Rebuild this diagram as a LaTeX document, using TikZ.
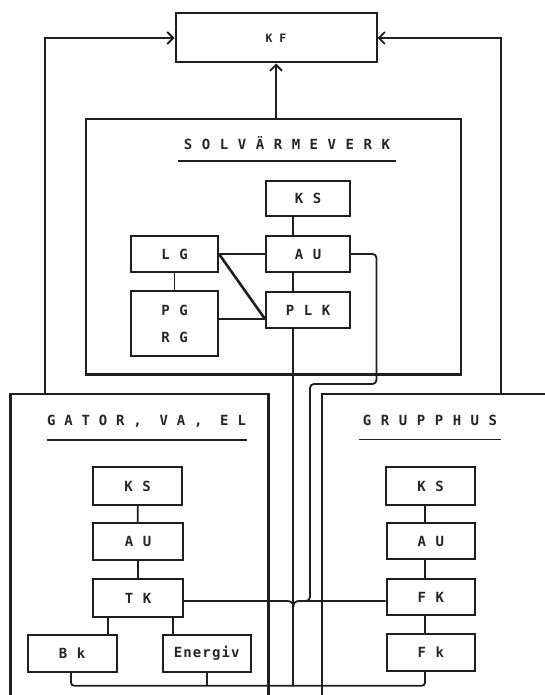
\documentclass[tikz,border=0pt]{standalone}
\usepackage{fontspec}
\usetikzlibrary{arrows.meta,calc}
\newfontfamily\twmain[LetterSpace=8]{DejaVu Sans Mono Bold}
\newfontfamily\twnarrow[LetterSpace=3]{DejaVu Sans Mono Bold}
\newfontfamily\twplain{DejaVu Sans Mono Bold}
\newcommand\dgLbl{\twmain\fontsize{14}{16}\selectfont}
\newcommand\dgLblN{\twnarrow\fontsize{14}{16}\selectfont}
\newcommand\dgKF{\twplain\fontsize{11.5}{14}\selectfont}
\begin{document}
\begin{tikzpicture}[x=1pt,y=-1pt,
  ink/.style={draw=black!88},
  box/.style={ink, line width=2pt, rectangle, inner sep=0pt, font=\dgLbl, text=black!85},
  frame/.style={ink, line width=2.2pt},
  conn/.style={ink, line width=1.8pt},
  diag/.style={ink, line width=2.6pt},
  arr/.style={-{Straight Barb[length=6pt,width=12pt]}},
  title/.style={font=\dgLbl, inner sep=0pt, text=black!85}]
\useasboundingbox[fill=white] (0,0) rectangle (545,695);

% top
\node[box, minimum width=201pt, minimum height=49pt, font=\dgKF] (kf) at (276,38) {K F};

% SOLVARMEVERK
\node[frame, rectangle, minimum width=375pt, minimum height=255.5pt, inner sep=0pt] (solv) at (273.5,246.8) {};
\node[title] (solvt) at (287,142.7) {S O L V Ä R M E V E R K};
\draw[conn] (178,160.7) -- (396,160.7);
\node[box, minimum width=84pt, minimum height=35pt] (ks1) at (308,198.4) {K S};
\node[box, minimum width=84pt, minimum height=36pt] (au1) at (308,254) {A U};
\node[box, minimum width=84pt, minimum height=36.5pt] (plk) at (308,310) {P L K};
\node[box, minimum width=87pt, minimum height=36pt] (lg) at (174.5,254) {L G};
\node[box, minimum width=87pt, minimum height=65pt, align=center] (pg) at (174.5,323.5) {P G\\[11pt]R G};

\coordinate (vx) at (293.3,0);
\coordinate (hy) at (0,319);
\coordinate (bot) at (0,685.7);
\coordinate (jn) at (293.3,601);
\coordinate (jr) at (310,601);
\coordinate (c1) at (376.5,384);
\coordinate (c2) at (310,384);

\draw[conn] (ks1.south -| vx) -- (au1.north -| vx);
\draw[conn] (au1.south -| vx) -- (plk.north -| vx);
\draw[conn] (lg.east) -- (au1.west);
\draw[conn] (lg.south) -- (pg.north);
\draw[conn] (pg.east |- hy) -- (plk.west |- hy);
\draw[diag] (lg.east) -- (plk.west |- hy);
\draw[conn, rounded corners=4pt] (au1.east) -| (c1) -- (c2) -- (jr) -- ($(jn)+(6,0)$);
\draw[conn] (plk.south -| vx) -- (vx |- bot);

% arrows to KF
\coordinate (lt) at (45,394);
\coordinate (rt) at (501,394);
\draw[conn, arr] (lt) |- (kf.west);
\draw[conn, arr] (rt) |- (kf.east);
\draw[conn, arr] (solv.north -| kf) -- (kf.south);

% GATOR, VA, EL
\draw[frame] (10.5,696) -- (10.5,394) -- (268.5,394) -- (268.5,696);
\node[title, font=\dgLblN] (gatt) at (146.5,421.5) {G A T O R ,\ \ V A ,\ \ E L};
\draw[conn] (46.7,440) -- (247,440);
\node[box, minimum width=89pt, minimum height=38pt] (ks2) at (137.5,486) {K S};
\node[box, minimum width=90pt, minimum height=37pt] (au2) at (138,541.5) {A U};
\node[box, minimum width=90pt, minimum height=37.7pt] (tk) at (138,598) {T K};
\node[box, minimum width=89pt, minimum height=36.7pt] (bk) at (72.2,653.3) {B k};
\node[box, minimum width=88pt, minimum height=36.7pt] (en) at (206.7,653.3) {Energiv};
\coordinate (g1) at (108.3,0);
\coordinate (g2) at (172.7,0);
\draw[conn] (ks2) -- (au2);
\draw[conn] (au2) -- (tk);
\draw[conn] (tk.south -| g1) -- (bk.north -| g1);
\draw[conn] (tk.south -| g2) -- (en.north -| g2);

% GRUPPHUS
\draw[frame] (322,696) -- (322,394) -- (546,394);
\node[title] (grt) at (430,420.7) {G R U P P H U S};
\draw[conn] (359,439.5) -- (500.7,439.5);
\node[box, minimum width=89pt, minimum height=38pt] (ks3) at (430.5,486) {K S};
\node[box, minimum width=88.5pt, minimum height=36.3pt] (au3) at (430.8,541) {A U};
\node[box, minimum width=88.5pt, minimum height=36pt] (fk) at (430.8,597) {F K};
\node[box, minimum width=88.5pt, minimum height=36.4pt] (fk2) at (430.8,652.5) {F k};
\coordinate (gx) at (425,0);
\draw[conn] (ks3.south -| gx) -- (au3.north -| gx);
\draw[conn] (au3.south -| gx) -- (fk.north -| gx);
\draw[conn] (fk.south -| gx) -- (fk2.north -| gx);

% junction of TK and FK lines into the PLK line
\draw[conn] (tk.east |- jn) -- ($(jn)+(-6,0)$) .. controls ($(jn)+(-2,0)$) and ($(jn)+(0,2)$) .. ($(jn)+(0,6)$);
\draw[conn] (fk.west |- jn) -- ($(jn)+(6,0)$) .. controls ($(jn)+(2,0)$) and ($(jn)+(0,2)$) .. ($(jn)+(0,6)$);

% bottom collecting line
\coordinate (b1) at (71,685.7);
\coordinate (b2) at (425,685.7);
\draw[conn, rounded corners=3pt] (bk.south -| b1) -- (b1) -- (b2) -- (fk2.south -| b2);
\draw[conn] (en.south) -- (en.south |- bot);
\end{tikzpicture}
\end{document}
